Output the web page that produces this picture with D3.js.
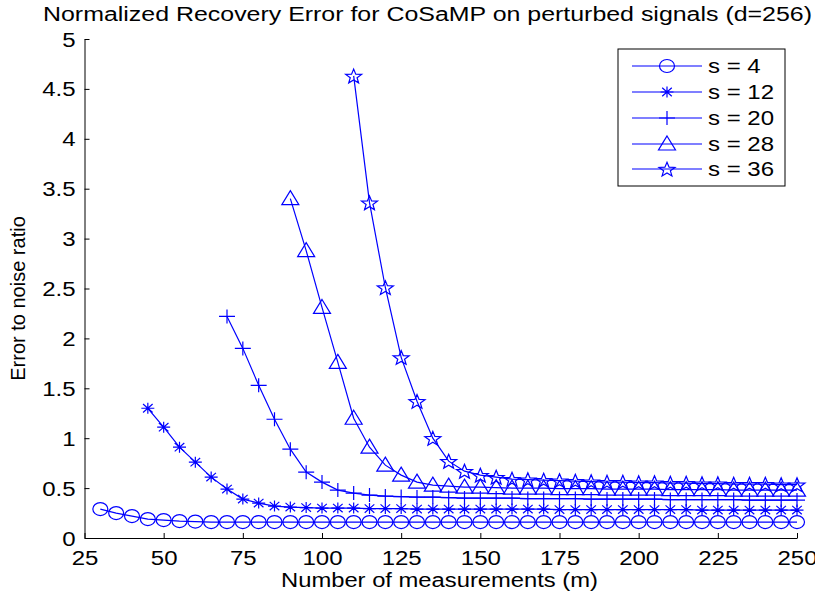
<!DOCTYPE html>
<html><head><meta charset="utf-8">
<script src="https://cdn.jsdelivr.net/npm/d3@7"></script>
<style>body{margin:0;background:#fff}text{font-family:"Liberation Sans",Arial,sans-serif}</style>
</head><body><svg id="c" width="815" height="595"></svg>
<script>
const xTicks = [25,50,75,100,125,150,175,200,225,250];
const yTicks = [0,0.5,1,1.5,2,2.5,3,3.5,4,4.5,5];
const yTickLabels = ["0","0.5","1","1.5","2","2.5","3","3.5","4","4.5","5"];
const seriesNames = ["s = 4","s = 12","s = 20","s = 28","s = 36"];
const seriesStart = [30,45,70,90,110];
const s4 = [0.29,0.25,0.22,0.19,0.18,0.17,0.165,0.16,0.16,0.16,0.16,0.16,0.16,0.16,0.16,0.16,0.16,0.16,0.16,0.16,0.16,0.16,0.16,0.16,0.16,0.16,0.16,0.16,0.16,0.16,0.16,0.16,0.16,0.16,0.16,0.16,0.16,0.16,0.16,0.16,0.16,0.16,0.16,0.16,0.16];
const s12 = [1.30,1.11,0.91,0.76,0.61,0.49,0.39,0.35,0.32,0.31,0.305,0.30,0.30,0.30,0.295,0.295,0.295,0.29,0.29,0.29,0.29,0.29,0.29,0.29,0.29,0.29,0.285,0.285,0.285,0.285,0.285,0.285,0.285,0.285,0.285,0.28,0.28,0.28,0.28,0.28,0.28,0.28];
const s20 = [2.22,1.90,1.53,1.19,0.89,0.66,0.56,0.48,0.45,0.43,0.42,0.415,0.41,0.41,0.405,0.40,0.40,0.40,0.40,0.395,0.395,0.395,0.395,0.39,0.39,0.39,0.39,0.39,0.385,0.385,0.385,0.385,0.385,0.38,0.38,0.38,0.38];
const s28 = [3.40,2.88,2.31,1.76,1.20,0.91,0.73,0.63,0.56,0.53,0.52,0.51,0.51,0.505,0.50,0.50,0.50,0.495,0.495,0.495,0.49,0.49,0.49,0.49,0.485,0.485,0.485,0.485,0.48,0.48,0.48,0.48,0.48];
const s36 = [4.63,3.36,2.51,1.81,1.37,1.00,0.77,0.67,0.63,0.61,0.59,0.585,0.58,0.575,0.57,0.565,0.56,0.56,0.555,0.555,0.55,0.55,0.545,0.545,0.54,0.54,0.54,0.535,0.535];
const seriesValues = [s4,s12,s20,s28,s36];
const markerTypes = ["circle","asterisk","plus","triangle","star"];

const svg = d3.select("#c");
const X0=84.5, X1=797, Y0=538, Y1=39;
const x = d3.scaleLinear().domain([25,250]).range([X0,X1]);
const y = d3.scaleLinear().domain([0,5]).range([Y0,Y1]);
const blue = "#0000ff";
const FS = 20, SX = 1.2;

function stretch(t, target){
  const n = t.node();
  const w = n.getComputedTextLength();
  t.attr("textLength", target || w*SX).attr("lengthAdjust","spacingAndGlyphs");
  return t;
}

// axes
const xa = svg.append("g").attr("transform",`translate(0,${Y0})`)
  .call(d3.axisBottom(x).tickValues(xTicks).tickSizeInner(-5).tickSizeOuter(0).tickPadding(10).tickFormat(d=>String(d)));
const ya = svg.append("g").attr("transform",`translate(${X0},0)`)
  .call(d3.axisLeft(y).tickValues(yTicks).tickSizeInner(-5).tickSizeOuter(0).tickPadding(9).tickFormat((d,i)=>yTickLabels[i]));
[xa,ya].forEach(a=>{
  a.select(".domain").attr("stroke","#000").attr("stroke-width",1);
  a.selectAll(".tick line").attr("stroke","#000").attr("stroke-width",1);
  a.selectAll("text").attr("font-size",FS).attr("fill","#000").attr("font-family","Liberation Sans, Arial, sans-serif");
});
xa.selectAll(".tick text").attr("dy",null).attr("y",27).each(function(){stretch(d3.select(this));});
ya.selectAll(".tick text").attr("dy",null).attr("y",7).each(function(){stretch(d3.select(this));});

// markers
function marker(g, type, cx, cy){
  const st = {stroke:blue,"stroke-width":1.2,fill:"none"};
  let el;
  if(type==="circle"){
    el = g.append("ellipse").attr("cx",cx).attr("cy",cy).attr("rx",7.5).attr("ry",6.5);
  } else if(type==="asterisk"){
    const a=6.5, b=5.5, d=4.8, e=4.2;
    el = g.append("path").attr("d",`M${cx-a},${cy}H${cx+a}M${cx},${cy-b}V${cy+b}M${cx-d},${cy-e}L${cx+d},${cy+e}M${cx-d},${cy+e}L${cx+d},${cy-e}`);
  } else if(type==="plus"){
    el = g.append("path").attr("d",`M${cx-8},${cy}H${cx+8}M${cx},${cy-7}V${cy+7}`);
  } else if(type==="triangle"){
    el = g.append("path").attr("d",`M${cx},${cy-8}L${cx+8.5},${cy+6}L${cx-8.5},${cy+6}Z`);
  } else {
    const pts=[];
    for(let k=0;k<10;k++){
      const r = k%2===0?8:3.4;
      const ang = -Math.PI/2 + k*Math.PI/5;
      pts.push([cx+r*Math.cos(ang)*1.05, cy+r*Math.sin(ang)*0.95+0.8]);
    }
    el = g.append("path").attr("d","M"+pts.map(p=>p.join(",")).join("L")+"Z");
  }
  Object.entries(st).forEach(([k,v])=>el.attr(k,v));
}

const line = d3.line().x(d=>x(d[0])).y(d=>y(d[1]));
seriesValues.forEach((vals,si)=>{
  const pts = vals.map((v,i)=>[seriesStart[si]+5*i, v]);
  const g = svg.append("g");
  g.append("path").attr("d",line(pts)).attr("fill","none").attr("stroke",blue).attr("stroke-width",1.2);
  pts.forEach(p=>marker(g, markerTypes[si], x(p[0]), y(p[1])));
});

// legend
const lg = svg.append("g");
lg.append("rect").attr("x",618).attr("y",49).attr("width",167).attr("height",137)
  .attr("fill","#fff").attr("stroke","#000").attr("stroke-width",1);
const legY = [66,92,118,144,169];
seriesNames.forEach((nm,i)=>{
  const cy = legY[i];
  lg.append("line").attr("x1",632).attr("x2",702).attr("y1",cy).attr("y2",cy).attr("stroke",blue).attr("stroke-width",1.2);
  marker(lg, markerTypes[i], 667, cy);
  const t = lg.append("text").attr("x",708).attr("y",cy+7).attr("font-size",FS).attr("fill","#000").text(nm);
  stretch(t);
});

// labels
stretch(svg.append("text").attr("x",427.5).attr("y",21).attr("text-anchor","middle").attr("font-size",FS).text("Normalized Recovery Error for CoSaMP on perturbed signals (d=256)"), 769);
stretch(svg.append("text").attr("x",439.5).attr("y",587).attr("text-anchor","middle").attr("font-size",FS).text("Number of measurements (m)"), 317);
svg.append("text").attr("transform","translate(25,298.5) rotate(-90)").attr("text-anchor","middle").attr("font-size",FS).text("Error to noise ratio");
</script></body></html>
